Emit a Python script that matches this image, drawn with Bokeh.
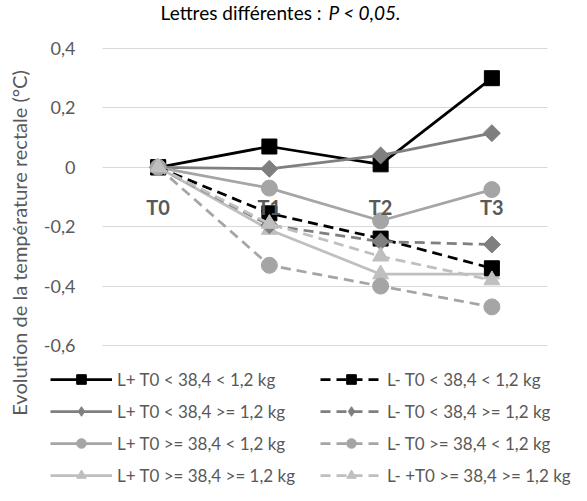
from bokeh.plotting import figure
from bokeh.models import (Range1d, FixedTicker, Legend, LegendItem, Label, ColumnDataSource)
from bokeh.core.properties import value
from bokeh.embed import file_html
from bokeh.resources import INLINE
import math

# ---- data ----
categories = ["T0", "T1", "T2", "T3"]
s_lp_lt_lt = [0.0, 0.07, 0.01, 0.30]      # L+ T0 < 38,4 < 1,2 kg
s_lp_lt_ge = [0.0, -0.005, 0.04, 0.115]   # L+ T0 < 38,4 >= 1,2 kg
s_lp_ge_lt = [0.0, -0.07, -0.18, -0.075]  # L+ T0 >= 38,4 < 1,2 kg
s_lp_ge_ge = [0.0, -0.21, -0.36, -0.36]   # L+ T0 >= 38,4 >= 1,2 kg
s_lm_lt_lt = [0.0, -0.155, -0.24, -0.34]  # L- T0 < 38,4 < 1,2 kg
s_lm_lt_ge = [0.0, -0.195, -0.25, -0.26]  # L- T0 < 38,4 >= 1,2 kg
s_lm_ge_lt = [0.0, -0.33, -0.40, -0.47]   # L- T0 >= 38,4 < 1,2 kg
s_lm_ge_ge = [0.0, -0.19, -0.30, -0.38]   # L- +T0 >= 38,4 >= 1,2 kg
series_names = [
    "L+ T0 < 38,4 < 1,2 kg", "L+ T0 < 38,4 >= 1,2 kg",
    "L+ T0 >= 38,4 < 1,2 kg", "L+ T0 >= 38,4 >= 1,2 kg",
    "L- T0 < 38,4 < 1,2 kg", "L- T0 < 38,4 >= 1,2 kg",
    "L- T0 >= 38,4 < 1,2 kg", "L- +T0 >= 38,4 >= 1,2 kg",
]
y_ticks = [-0.6, -0.4, -0.2, 0.0, 0.2, 0.4]
y_tick_labels = ["-0,6", "-0,4", "-0,2", "0", "0,2", "0,4"]
y_min, y_max = -0.6, 0.4

series_values = [s_lp_lt_lt, s_lp_lt_ge, s_lp_ge_lt, s_lp_ge_ge,
                 s_lm_lt_lt, s_lm_lt_ge, s_lm_ge_lt, s_lm_ge_ge]
colors = ["#000000", "#7f7f7f", "#a5a5a5", "#bfbfbf"] * 2
markers = ["square", "diamond", "circle", "triangle"] * 2
msizes = [15, 12, 16, 16] * 2
legend_msizes = [12, 14, 12, 13] * 2
dashes = ["solid"] * 4 + ["10 6"] * 4

FONT = "Lato"
GREY = "#595959"

# ---- layout (pixels inside the figure) ----
W, H = 571, 485
PL, PR, PT, PB = 102, 547, 48, 345     # plot area edges
ncat = len(categories)

def dx(px):
    return (px - PL) / (PR - PL) * ncat

def dy(py):
    return y_max - (py - PT) / (PB - PT) * (y_max - y_min)

xs = [i + 0.5 for i in range(ncat)]

p = figure(width=W, height=H, output_backend="svg", toolbar_location=None,
           x_range=Range1d(dx(0), dx(W)), y_range=Range1d(dy(H), dy(0)),
           x_axis_location=None, min_border_left=0, min_border_right=0,
           min_border_top=0, min_border_bottom=0)
p.outline_line_color = None
p.xgrid.grid_line_color = None
g = p.ygrid[0]
g.grid_line_color = "#d9d9d9"
g.grid_line_width = 1
g.ticker = FixedTicker(ticks=y_ticks)
if "cross_bounds" in g.properties():
    g.cross_bounds = (0, ncat)

ax = p.yaxis[0]
ax.fixed_location = 0
ax.ticker = FixedTicker(ticks=y_ticks)
ax.major_label_overrides = {t: l for t, l in zip(y_ticks, y_tick_labels)}
ax.axis_line_color = None
ax.major_tick_line_color = None
ax.minor_tick_line_color = None
ax.major_label_standoff = 21
ax.major_label_text_font = FONT
ax.major_label_text_font_size = "18px"
ax.major_label_text_color = GREY
ax.axis_label = "Evolution de la température rectale (°C)"
ax.axis_label_text_font = FONT
ax.axis_label_text_font_size = "20px"
ax.axis_label_text_font_style = "normal"
ax.axis_label_text_color = GREY
ax.axis_label_standoff = 10

items = []
for name, vals, c, m, ms, lms, d in zip(series_names, series_values, colors, markers,
                                         msizes, legend_msizes, dashes):
    src = ColumnDataSource(dict(x=xs, y=vals))
    lr = p.line("x", "y", source=src, line_color=c, line_width=2.75, line_dash=d)
    if m == "diamond":
        # on the chart: a square turned by 45 degrees (as wide as it is tall)
        p.scatter("x", "y", source=src, marker="square", angle=math.pi / 4, size=ms,
                  fill_color=c, line_color=c)
        # legend sample of the same series
        sr = p.scatter("x", "y", source=src, marker="diamond", size=lms,
                       fill_color=c, line_color=c, visible=False)
    else:
        sr = p.scatter("x", "y", source=src, marker=m, size=ms,
                       fill_color=c, line_color=c)
    items.append(LegendItem(label=name, renderers=[lr, sr]))

# category labels
p.text(x=xs, y=[dy(206)] * ncat, text=categories,
       text_font=value(FONT), text_font_size="20px", text_font_style="bold",
       text_color=GREY, text_align="center", text_baseline="middle")

legend = Legend(items=items, ncols=2, location=(50, -2),
                glyph_width=62, glyph_height=24, label_height=24,
                label_width=195, spacing=8, padding=0, margin=0,
                label_standoff=5, border_line_color=None, background_fill_alpha=0,
                label_text_font=FONT, label_text_font_size="17px",
                label_text_color=GREY)
p.add_layout(legend, "center")

# title (mixed upright / italic)
ty = dy(12)
p.add_layout(Label(x=dx(321), y=ty, text="Lettres différentes :",
                   text_align="right", text_baseline="middle",
                   text_font=FONT, text_font_size="19px", text_color="#000000"))
p.add_layout(Label(x=dx(328), y=ty, text="P < 0,05",
                   text_align="left", text_baseline="middle", text_font_style="italic",
                   text_font=FONT, text_font_size="19px", text_color="#000000"))
p.add_layout(Label(x=dx(395), y=ty, text=".",
                   text_align="left", text_baseline="middle",
                   text_font=FONT, text_font_size="19px", text_color="#000000"))

open("out.html", "w").write(file_html(p, INLINE))
